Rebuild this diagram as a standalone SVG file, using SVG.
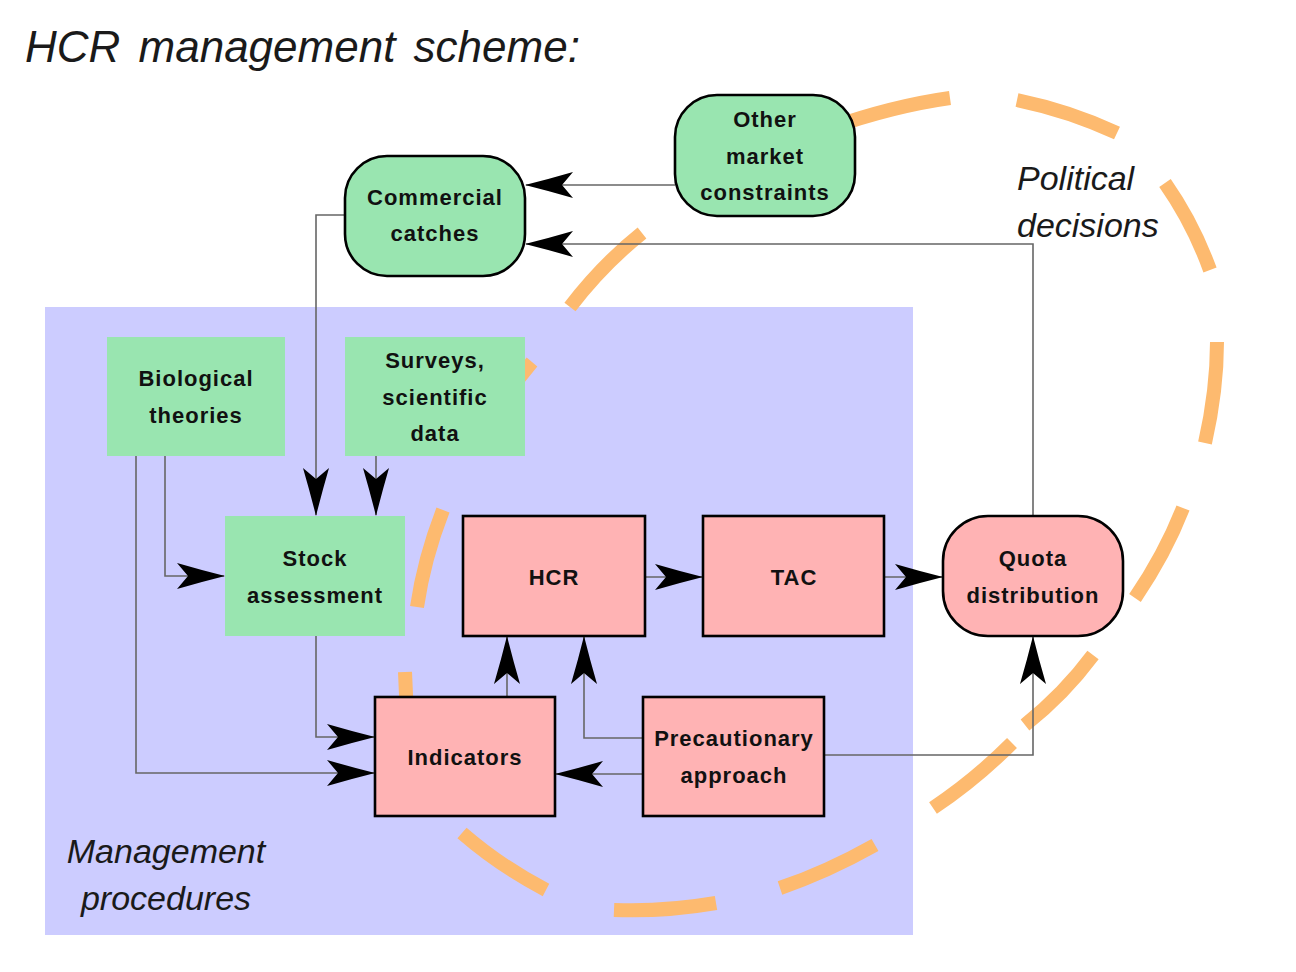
<svg xmlns="http://www.w3.org/2000/svg" width="1296" height="972" viewBox="0 0 1296 972">
<style>
.lbl{font-family:"Liberation Sans",Arial,sans-serif;font-weight:bold;font-size:22px;letter-spacing:1px;fill:#111;text-anchor:middle}
.it{font-family:"Liberation Sans",Arial,sans-serif;font-style:italic;fill:#1a1a1a}
.green{fill:#99E5B0}
.greenb{fill:#99E5B0;stroke:#000;stroke-width:2.6}
.pinkb{fill:#FFB3B4;stroke:#000;stroke-width:2.6}
.dash{fill:none;stroke:#FDBA6F;stroke-width:14;stroke-linecap:butt}
.conn{fill:none;stroke:#666;stroke-width:1.6;marker-end:url(#arr)}
</style>
<defs>
<marker id="arr" markerUnits="userSpaceOnUse" viewBox="0 0 48 26" markerWidth="48" markerHeight="26" refX="47" refY="13" orient="auto" overflow="visible">
<path d="M48,13 Q24,7 0,0 L11,13 L0,26 Q24,19 48,13 Z" fill="#000"/>
</marker>
</defs>
<rect width="1296" height="972" fill="#fff"/>
<text class="it" x="25" y="62" font-size="44" word-spacing="6">HCR management scheme:</text>
<g id="management-procedures">
<rect x="45" y="307" width="868" height="628" fill="#CCCCFF"/>
<text class="it" x="166" y="863" font-size="34" text-anchor="middle">Management</text>
<text class="it" x="166" y="910" font-size="34" text-anchor="middle">procedures</text>
</g>
<g id="political-decisions">
<path class="dash" d="M830,128 Q893,106 950,98"/>
<path class="dash" d="M1017,100 Q1070,111 1117,133"/>
<path class="dash" d="M1165,183 Q1193,223 1210,270"/>
<path class="dash" d="M1217,342 Q1217,390 1205,443"/>
<path class="dash" d="M1183,508 Q1165,554 1135,598"/>
<path class="dash" d="M1093,655 Q1064,694 1025,725"/>
<path class="dash" d="M1012,743 Q975,780 933,808"/>
<path class="dash" d="M875,845 Q827,872 780,888"/>
<path class="dash" d="M716,903 Q663,912 614,910"/>
<path class="dash" d="M546,890 Q500,866 462,833"/>
<path class="dash" d="M418,770 Q406,724 405,672"/>
<path class="dash" d="M417,607 Q424,559 443,510"/>
<path class="dash" d="M475,448 Q497,403 532,362"/>
<path class="dash" d="M570,307 Q602,265 642,233"/>
<text class="it" x="1017" y="190" font-size="34">Political</text>
<text class="it" x="1017" y="237" font-size="34">decisions</text>
</g>
<g id="connectors">
<path class="conn" d="M675,185 H526"/>
<path class="conn" d="M1033,516 V244 H526"/>
<path class="conn" d="M345,215 H316 V515"/>
<path class="conn" d="M376,456 V515"/>
<path class="conn" d="M165,456 V576 H224"/>
<path class="conn" d="M136,456 V773 H374"/>
<path class="conn" d="M316,636 V737 H374"/>
<path class="conn" d="M507,697 V637"/>
<path class="conn" d="M643,738 H584 V637"/>
<path class="conn" d="M643,774 H556"/>
<path class="conn" d="M824,755 H1033 V637"/>
<path class="conn" d="M645,577 H702"/>
<path class="conn" d="M884,577 H942"/>
</g>
<g id="other-market-constraints">
<rect class="greenb" x="675" y="95" width="180" height="121" rx="42"/>
<text class="lbl" x="765" y="127">Other</text>
<text class="lbl" x="765" y="164">market</text>
<text class="lbl" x="765" y="200">constraints</text>
</g>
<g id="commercial-catches">
<rect class="greenb" x="345" y="156" width="180" height="120" rx="42"/>
<text class="lbl" x="435" y="205">Commercial</text>
<text class="lbl" x="435" y="241">catches</text>
</g>
<g id="biological-theories">
<rect class="green" x="107" y="337" width="178" height="119"/>
<text class="lbl" x="196" y="386">Biological</text>
<text class="lbl" x="196" y="423">theories</text>
</g>
<g id="surveys">
<rect class="green" x="345" y="337" width="180" height="119"/>
<text class="lbl" x="435" y="368">Surveys,</text>
<text class="lbl" x="435" y="405">scientific</text>
<text class="lbl" x="435" y="441">data</text>
</g>
<g id="stock-assessment">
<rect class="green" x="225" y="516" width="180" height="120"/>
<text class="lbl" x="315" y="566">Stock</text>
<text class="lbl" x="315" y="603">assessment</text>
</g>
<g id="hcr">
<rect class="pinkb" x="463" y="516" width="182" height="120"/>
<text class="lbl" x="554" y="585">HCR</text>
</g>
<g id="tac">
<rect class="pinkb" x="703" y="516" width="181" height="120"/>
<text class="lbl" x="794" y="585">TAC</text>
</g>
<g id="quota-distribution">
<rect class="pinkb" x="943" y="516" width="180" height="120" rx="45"/>
<text class="lbl" x="1033" y="566">Quota</text>
<text class="lbl" x="1033" y="603">distribution</text>
</g>
<g id="indicators">
<rect class="pinkb" x="375" y="697" width="180" height="119"/>
<text class="lbl" x="465" y="765">Indicators</text>
</g>
<g id="precautionary-approach">
<rect class="pinkb" x="643" y="697" width="181" height="119"/>
<text class="lbl" x="734" y="746">Precautionary</text>
<text class="lbl" x="734" y="783">approach</text>
</g>
</svg>
